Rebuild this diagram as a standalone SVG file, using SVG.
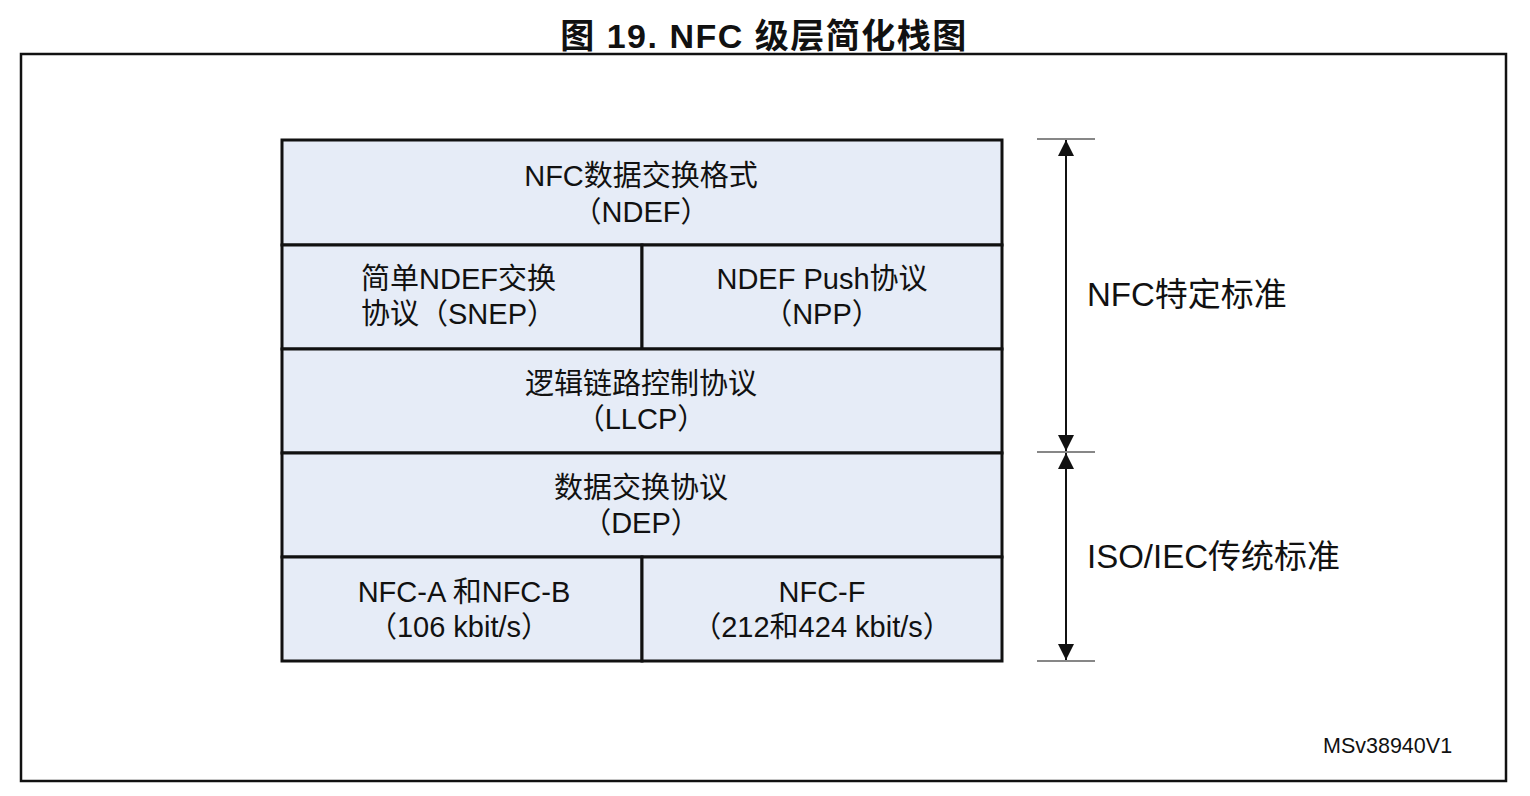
<svg xmlns="http://www.w3.org/2000/svg" width="1530" height="796" viewBox="0 0 1530 796">
<style>
.t{font-family:"Liberation Sans","Noto Sans CJK SC",sans-serif;fill:#111;}
.c{font-size:29px;text-anchor:middle;}
.l{font-size:29px;}
.r{font-size:33px;}
.cell{fill:#E6ECF7;stroke:#111;stroke-width:3;}
.dim{stroke:#111;stroke-width:2;fill:none;}
.tick{stroke:#111;stroke-width:1.2;}
</style>
<defs>
<marker id="ah2" viewBox="0 0 16 16" refX="16" refY="8" markerWidth="16" markerHeight="16" markerUnits="userSpaceOnUse" orient="auto-start-reverse">
<path d="M0,0 L16,8 L0,16 z" fill="#111"/>
</marker>
</defs>
<rect width="1530" height="796" fill="#fff"/>
<text class="t" x="764" y="48" font-size="34" font-weight="bold" letter-spacing="1.5" text-anchor="middle">图 19. NFC 级层简化栈图</text>
<rect x="21" y="54" width="1485" height="727" fill="none" stroke="#111" stroke-width="2.5"/>

<g id="ndef">
<rect class="cell" x="282" y="140" width="720" height="105"/>
<text class="t c" x="641" y="186">NFC数据交换格式</text>
<text class="t c" x="641" y="222">（NDEF）</text>
</g>
<g id="snep">
<rect class="cell" x="282" y="245" width="360" height="104"/>
<text class="t l" x="361" y="289">简单NDEF交换</text>
<text class="t l" x="361" y="324">协议（SNEP）</text>
</g>
<g id="npp">
<rect class="cell" x="642" y="245" width="360" height="104"/>
<text class="t c" x="822" y="289">NDEF Push协议</text>
<text class="t c" x="822" y="324">（NPP）</text>
</g>
<g id="llcp">
<rect class="cell" x="282" y="349" width="720" height="104"/>
<text class="t c" x="641" y="394">逻辑链路控制协议</text>
<text class="t c" x="641" y="429">（LLCP）</text>
</g>
<g id="dep">
<rect class="cell" x="282" y="453" width="720" height="104"/>
<text class="t c" x="641" y="498">数据交换协议</text>
<text class="t c" x="641" y="533">（DEP）</text>
</g>
<g id="nfcab">
<rect class="cell" x="282" y="557" width="360" height="104"/>
<text class="t c" x="464" y="602">NFC-A 和NFC-B</text>
<text class="t c" x="459" y="637">（106 kbit/s）</text>
</g>
<g id="nfcf">
<rect class="cell" x="642" y="557" width="360" height="104"/>
<text class="t c" x="822" y="602">NFC-F</text>
<text class="t c" x="822" y="637">（212和424 kbit/s）</text>
</g>

<g id="connectors">
<line class="tick" x1="1037" y1="139" x2="1095" y2="139"/>
<line class="tick" x1="1037" y1="452" x2="1095" y2="452"/>
<line class="tick" x1="1037" y1="661" x2="1095" y2="661"/>
<line class="dim" x1="1066" y1="140" x2="1066" y2="451" marker-start="url(#ah2)" marker-end="url(#ah2)"/>
<line class="dim" x1="1066" y1="453" x2="1066" y2="660" marker-start="url(#ah2)" marker-end="url(#ah2)"/>
</g>
<g id="labels">
<text class="t r" x="1087" y="306">NFC特定标准</text>
<text class="t r" x="1087" y="568">ISO/IEC传统标准</text>
<text class="t" x="1323" y="753" font-size="21.5">MSv38940V1</text>
</g>
</svg>
